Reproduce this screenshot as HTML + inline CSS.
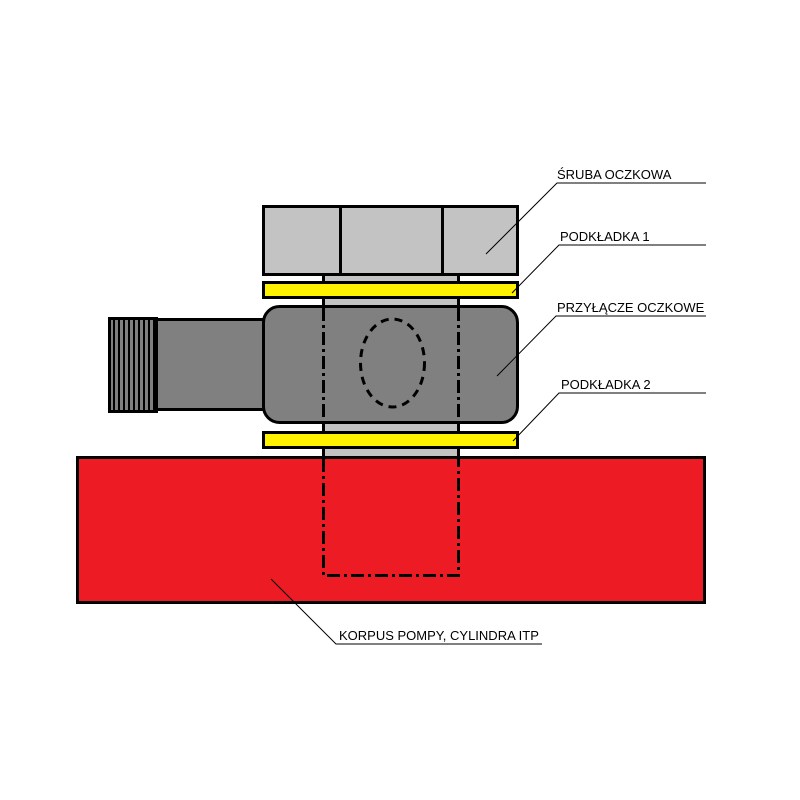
<!DOCTYPE html>
<html><head><meta charset="utf-8"><style>html,body{margin:0;padding:0;background:#fff}svg{display:block}</style></head>
<body>
<svg width="800" height="800" viewBox="0 0 800 800" xmlns="http://www.w3.org/2000/svg">
<rect width="800" height="800" fill="#fff"/>
<!-- shaft -->
<rect x="323" y="270" width="135" height="190" fill="#c3c3c3"/>
<line x1="323.5" y1="272" x2="323.5" y2="310" stroke="#000" stroke-width="3"/>
<line x1="458.5" y1="272" x2="458.5" y2="310" stroke="#000" stroke-width="3"/>
<line x1="323.5" y1="420" x2="323.5" y2="460" stroke="#000" stroke-width="3"/>
<line x1="458.5" y1="420" x2="458.5" y2="460" stroke="#000" stroke-width="3"/>
<!-- red body -->
<rect x="77.5" y="457.5" width="627" height="145" fill="#ed1c24" stroke="#000" stroke-width="3"/>
<!-- pipe -->
<rect x="156" y="319.5" width="110" height="90" fill="#808080" stroke="#000" stroke-width="3"/>
<!-- thread -->
<rect x="109.5" y="318.5" width="47" height="93" fill="#808080" stroke="#000" stroke-width="3"/>
<g stroke="#000" stroke-width="2">
<line x1="114" y1="318" x2="114" y2="411"/><line x1="119" y1="318" x2="119" y2="411"/>
<line x1="124" y1="318" x2="124" y2="411"/><line x1="129" y1="318" x2="129" y2="411"/>
<line x1="134" y1="318" x2="134" y2="411"/><line x1="139" y1="318" x2="139" y2="411"/>
<line x1="144" y1="318" x2="144" y2="411"/><line x1="149" y1="318" x2="149" y2="411"/>
<line x1="154" y1="318" x2="154" y2="411"/>
</g>
<!-- eye body -->
<rect x="263.5" y="306.5" width="254" height="116" rx="16" fill="#808080" stroke="#000" stroke-width="3"/>
<ellipse cx="392.5" cy="363" rx="32" ry="44" fill="none" stroke="#000" stroke-width="3" stroke-dasharray="8,6"/>
<!-- dash-dot lines -->
<g stroke="#000" stroke-width="3" fill="none" stroke-dasharray="13,4,3,4">
<line x1="323.5" y1="308" x2="323.5" y2="421"/>
<line x1="458.5" y1="308" x2="458.5" y2="421"/>
<polyline points="323.5,459 323.5,575.5 458.5,575.5 458.5,459"/>
</g>
<!-- bolt head -->
<rect x="263.5" y="206.5" width="254" height="68" fill="#c3c3c3" stroke="#000" stroke-width="3"/>
<line x1="340.5" y1="206" x2="340.5" y2="275" stroke="#000" stroke-width="3"/>
<line x1="442.5" y1="206" x2="442.5" y2="275" stroke="#000" stroke-width="3"/>
<!-- washers -->
<rect x="263.5" y="282.5" width="254" height="15" fill="#fff200" stroke="#000" stroke-width="3"/>
<rect x="263.5" y="432.5" width="254" height="15" fill="#fff200" stroke="#000" stroke-width="3"/>
<!-- leaders -->
<g stroke="#000" stroke-width="1" fill="none">
<polyline points="486,254 557,183 706,183"/>
<polyline points="512,293 559,245 706,245"/>
<polyline points="497,376 556,316 706,316"/>
<polyline points="513,441 559,393 706,393"/>
<polyline points="271,579 336,644 542,644"/>
</g>
<g font-family="Liberation Sans, sans-serif" font-size="13" fill="#000">
<text x="557" y="179">ŚRUBA OCZKOWA</text>
<text x="560" y="241">PODKŁADKA 1</text>
<text x="557" y="312">PRZYŁĄCZE OCZKOWE</text>
<text x="561" y="389">PODKŁADKA 2</text>
<text x="339" y="640">KORPUS POMPY, CYLINDRA ITP</text>
</g>
</svg>
</body></html>
